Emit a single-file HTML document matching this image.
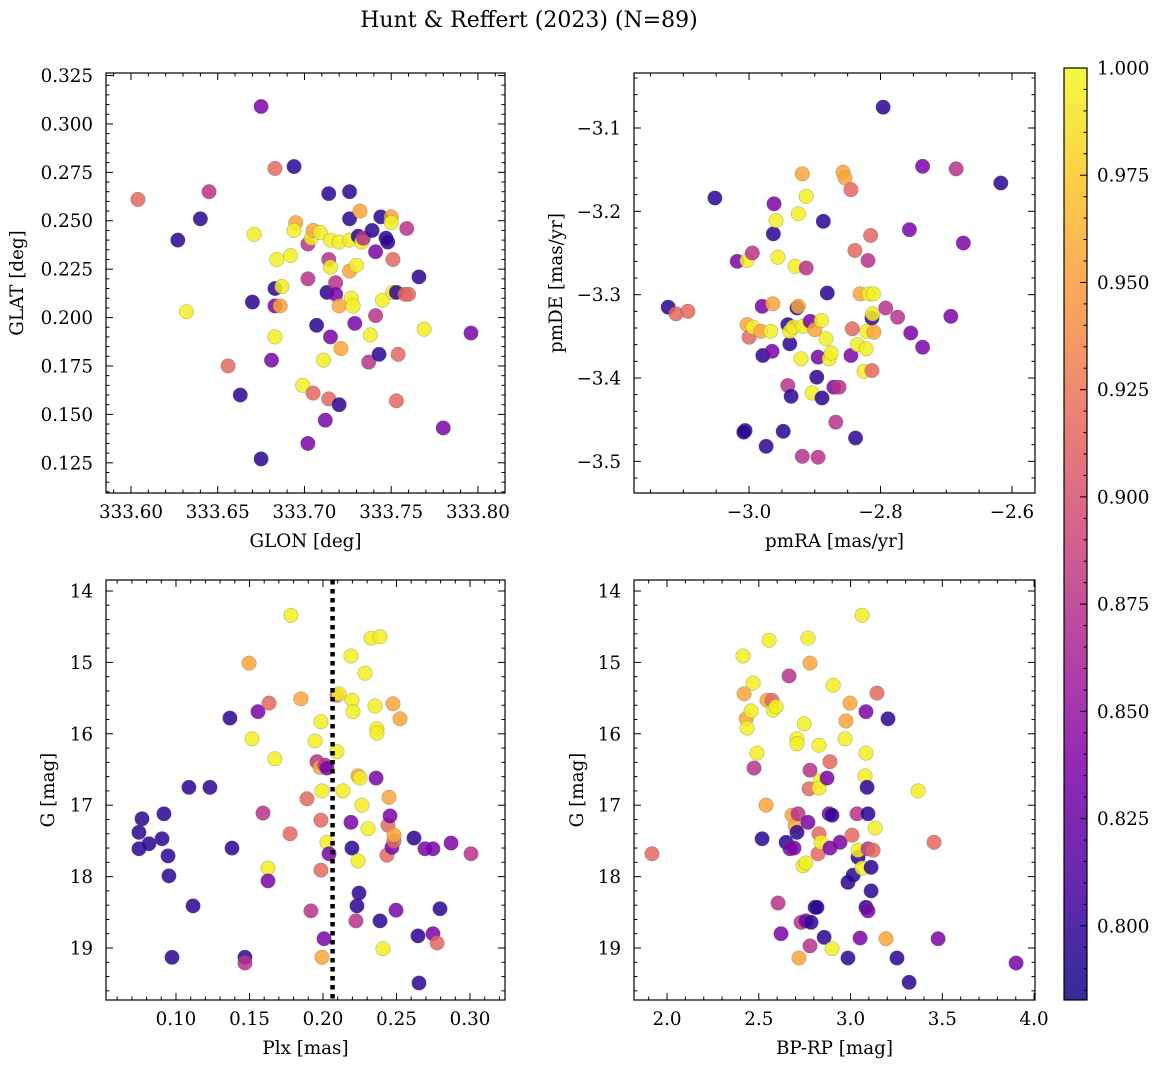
<!DOCTYPE html>
<html><head><meta charset="utf-8"><style>
html,body{margin:0;padding:0;background:#fff;}
svg{display:block;font-family:"DejaVu Serif","Liberation Serif",serif;}
</style></head><body>
<svg id="fig" width="1161" height="1068" viewBox="0 0 1161 1068">
<text x="529" y="27" text-anchor="middle" font-size="22">Hunt &amp; Reffert (2023) (N=89)</text>
</svg>
<script>
// ---------- data ----------
// Panel 1: GLON / GLAT
const glon1 = [333.604,333.627,333.640,333.645,333.632,333.656,333.663,333.670,333.671,333.675,333.675,333.681,333.683,333.683,333.684,333.683,333.686,333.687,333.683,333.692,333.694,333.695,333.694,333.699,333.702,333.702,333.702,333.704,333.705,333.705,333.707,333.709,333.711,333.712,333.713,333.714,333.714,333.715,333.715,333.715,333.714,333.718,333.718,333.720,333.720,333.720,333.721,333.726,333.726,333.726,333.726,333.727,333.728,333.729,333.730,333.731,333.732,333.733,333.734,333.737,333.738,333.739,333.741,333.741,333.743,333.744,333.745,333.747,333.748,333.750,333.750,333.751,333.751,333.753,333.754,333.753,333.758,333.760,333.759,333.766,333.769,333.780,333.796];
const glat1 = [0.261,0.240,0.251,0.265,0.203,0.175,0.160,0.208,0.243,0.309,0.127,0.178,0.277,0.215,0.230,0.206,0.206,0.216,0.190,0.232,0.278,0.249,0.245,0.165,0.238,0.220,0.135,0.241,0.245,0.161,0.196,0.244,0.178,0.147,0.213,0.264,0.230,0.240,0.226,0.190,0.158,0.218,0.212,0.239,0.206,0.155,0.184,0.240,0.224,0.251,0.265,0.210,0.206,0.197,0.227,0.242,0.255,0.239,0.241,0.177,0.191,0.245,0.234,0.201,0.181,0.252,0.209,0.241,0.239,0.252,0.249,0.230,0.213,0.213,0.181,0.157,0.212,0.212,0.246,0.221,0.194,0.143,0.192];
const prob1 = [0.915,0.795,0.795,0.875,0.995,0.915,0.795,0.795,0.995,0.835,0.795,0.835,0.915,0.795,0.995,0.835,0.955,0.995,0.995,0.995,0.795,0.955,0.995,0.995,0.875,0.875,0.835,0.995,0.955,0.915,0.795,0.995,0.995,0.835,0.795,0.795,0.875,0.995,0.995,0.835,0.915,0.875,0.835,0.995,0.955,0.795,0.955,0.995,0.955,0.795,0.795,0.995,0.995,0.835,0.995,0.795,0.955,0.995,0.875,0.875,0.995,0.795,0.835,0.875,0.795,0.795,0.995,0.795,0.795,0.955,0.995,0.915,0.995,0.795,0.915,0.915,0.915,0.915,0.875,0.795,0.995,0.835,0.835];
// Panel 2: pmRA / pmDE
const pmra2 = [-3.123,-3.111,-3.093,-3.052,-3.018,-3.006,-3.008,-3.003,-3.000,-3.003,-2.995,-2.994,-2.982,-2.980,-2.979,-2.974,-2.967,-2.965,-2.964,-2.963,-2.962,-2.959,-2.956,-2.948,-2.941,-2.941,-2.938,-2.936,-2.938,-2.933,-2.930,-2.927,-2.925,-2.925,-2.919,-2.919,-2.921,-2.918,-2.913,-2.913,-2.907,-2.904,-2.900,-2.897,-2.895,-2.895,-2.890,-2.887,-2.889,-2.883,-2.881,-2.878,-2.875,-2.871,-2.868,-2.863,-2.857,-2.854,-2.845,-2.843,-2.845,-2.839,-2.838,-2.835,-2.831,-2.825,-2.822,-2.821,-2.819,-2.818,-2.815,-2.813,-2.813,-2.812,-2.811,-2.810,-2.792,-2.774,-2.754,-2.756,-2.736,-2.736,-2.796,-2.693,-2.685,-2.674,-2.617];
const pmde2 = [-3.315,-3.323,-3.320,-3.184,-3.260,-3.463,-3.465,-3.336,-3.351,-3.259,-3.250,-3.339,-3.344,-3.314,-3.373,-3.482,-3.344,-3.368,-3.311,-3.227,-3.191,-3.211,-3.255,-3.464,-3.336,-3.409,-3.359,-3.422,-3.344,-3.339,-3.266,-3.316,-3.314,-3.203,-3.155,-3.494,-3.377,-3.338,-3.182,-3.268,-3.332,-3.418,-3.342,-3.399,-3.375,-3.495,-3.331,-3.212,-3.424,-3.353,-3.298,-3.377,-3.370,-3.411,-3.453,-3.411,-3.153,-3.160,-3.174,-3.341,-3.373,-3.247,-3.472,-3.360,-3.299,-3.392,-3.365,-3.344,-3.259,-3.299,-3.229,-3.328,-3.391,-3.323,-3.299,-3.345,-3.316,-3.327,-3.346,-3.222,-3.363,-3.146,-3.075,-3.326,-3.149,-3.238,-3.166];
const prob2 = [0.795,0.915,0.915,0.795,0.835,0.795,0.795,0.955,0.915,0.995,0.875,0.995,0.955,0.835,0.795,0.795,0.995,0.835,0.955,0.795,0.835,0.995,0.995,0.795,0.795,0.875,0.795,0.795,0.995,0.995,0.995,0.795,0.955,0.995,0.955,0.875,0.995,0.995,0.995,0.875,0.835,0.995,0.955,0.795,0.835,0.875,0.995,0.795,0.795,0.995,0.795,0.995,0.995,0.835,0.875,0.875,0.955,0.955,0.915,0.915,0.835,0.915,0.795,0.995,0.955,0.995,0.995,0.995,0.875,0.995,0.915,0.795,0.915,0.995,0.995,0.955,0.875,0.875,0.835,0.835,0.835,0.835,0.795,0.835,0.875,0.835,0.795];
// Panel 3: Plx / G
const plx3 = [0.0748,0.0769,0.0748,0.0816,0.0905,0.0918,0.0946,0.0952,0.0973,0.1088,0.1116,0.1231,0.1367,0.1381,0.1469,0.1469,0.1497,0.1517,0.1558,0.1592,0.1633,0.1626,0.1626,0.1673,0.1776,0.1782,0.1850,0.1891,0.1918,0.1946,0.1959,0.1980,0.1986,0.1993,0.1986,0.1986,0.1993,0.2007,0.2014,0.2027,0.2027,0.2041,0.2095,0.2095,0.2109,0.2136,0.2190,0.2190,0.2197,0.2197,0.2204,0.2224,0.2231,0.2238,0.2245,0.2238,0.2252,0.2265,0.2286,0.2306,0.2327,0.2361,0.2354,0.2367,0.2367,0.2388,0.2388,0.2408,0.2435,0.2442,0.2449,0.2456,0.2469,0.2483,0.2476,0.2483,0.2497,0.2524,0.2619,0.2646,0.2653,0.2694,0.2748,0.2776,0.2748,0.2871,0.2796,0.3007];
const g3 = [17.38,17.19,17.61,17.54,17.47,17.12,17.71,17.99,19.13,16.75,18.41,16.75,15.78,17.60,19.13,19.21,15.01,16.07,15.69,17.11,15.57,17.88,18.06,16.35,17.40,14.34,15.51,16.91,18.48,16.10,16.39,16.47,15.83,16.80,17.91,17.21,19.13,18.87,16.44,16.48,17.52,17.68,15.46,16.25,15.44,16.80,14.91,17.24,15.53,17.60,15.69,18.62,18.41,16.59,18.23,17.78,16.62,17.00,15.15,17.33,14.66,16.62,15.61,15.93,15.99,14.64,18.62,19.01,17.70,17.28,16.89,17.15,17.59,17.50,15.58,17.42,18.47,15.79,17.46,18.83,19.49,17.61,18.80,18.93,17.61,17.53,18.45,17.68];
const prob3 = [0.795,0.795,0.795,0.795,0.795,0.795,0.795,0.795,0.795,0.795,0.795,0.795,0.795,0.795,0.795,0.875,0.955,0.995,0.835,0.875,0.915,0.995,0.835,0.995,0.915,0.995,0.955,0.915,0.875,0.995,0.875,0.955,0.995,0.995,0.915,0.915,0.955,0.835,0.875,0.835,0.995,0.835,0.915,0.995,0.995,0.995,0.995,0.835,0.995,0.795,0.995,0.875,0.795,0.955,0.795,0.995,0.995,0.995,0.995,0.995,0.995,0.835,0.995,0.995,0.995,0.995,0.795,0.995,0.915,0.915,0.955,0.835,0.835,0.915,0.955,0.955,0.835,0.955,0.795,0.795,0.795,0.835,0.835,0.915,0.835,0.835,0.795,0.875];
const plxLine = 0.2065;
// Panel 4: BP-RP / G
const bprp4 = [1.918,2.414,2.420,2.431,2.436,2.458,2.469,2.490,2.474,2.518,2.540,2.545,2.556,2.572,2.578,2.594,2.605,2.621,2.649,2.665,2.670,2.692,2.681,2.698,2.714,2.708,2.708,2.708,2.719,2.730,2.741,2.747,2.757,2.757,2.768,2.768,2.774,2.779,2.779,2.779,2.785,2.807,2.817,2.823,2.828,2.834,2.828,2.828,2.839,2.856,2.872,2.883,2.888,2.888,2.899,2.899,2.905,2.943,2.970,2.975,2.986,2.986,2.997,3.008,3.014,3.035,3.041,3.041,3.052,3.063,3.079,3.084,3.090,3.063,3.084,3.084,3.095,3.095,3.095,3.112,3.112,3.134,3.123,3.144,3.193,3.204,3.253,3.319,3.368,3.455,3.477,3.902];
const g4 = [17.68,14.91,15.44,15.79,15.92,15.68,15.29,16.27,16.48,17.47,17.00,15.53,14.69,15.53,15.67,15.62,18.37,18.80,17.52,15.19,17.61,17.60,17.14,17.29,17.12,16.07,16.14,17.38,19.14,18.64,17.85,15.86,18.62,17.81,14.66,17.24,16.77,18.97,16.51,15.01,18.64,18.43,18.43,17.68,17.40,16.66,16.76,16.16,17.52,18.85,16.62,17.12,17.60,16.39,19.01,17.14,15.32,17.52,16.07,15.82,18.08,19.14,15.57,17.42,17.98,17.12,17.73,17.63,18.86,17.88,16.59,16.27,16.75,14.34,15.69,18.43,18.48,17.12,17.61,18.20,17.87,17.32,17.63,15.43,18.87,15.79,19.14,19.48,16.80,17.52,18.87,19.21];
const prob4 = [0.915,0.995,0.955,0.955,0.995,0.995,0.995,0.995,0.875,0.795,0.955,0.955,0.995,0.915,0.995,0.995,0.875,0.835,0.795,0.875,0.835,0.835,0.955,0.955,0.875,0.995,0.995,0.795,0.955,0.875,0.995,0.995,0.835,0.995,0.995,0.835,0.915,0.875,0.875,0.955,0.795,0.795,0.795,0.915,0.915,0.995,0.995,0.995,0.995,0.795,0.835,0.835,0.835,0.915,0.995,0.795,0.995,0.835,0.995,0.955,0.795,0.795,0.955,0.915,0.795,0.875,0.795,0.995,0.835,0.995,0.995,0.995,0.795,0.995,0.835,0.795,0.835,0.795,0.875,0.795,0.795,0.995,0.915,0.915,0.955,0.795,0.795,0.795,0.995,0.915,0.835,0.835];
// colour scale
const cmin = 0.7827, cmax = 1.0;
const cbTicks = [0.800,0.825,0.850,0.875,0.900,0.925,0.950,0.975,1.000];

// ---------- rendering ----------
const FS = 18.3;
const NS = "http://www.w3.org/2000/svg";
const fig = document.getElementById('fig');
function el(tag, attrs, parent){ const e=document.createElementNS(NS,tag); for(const k in attrs) e.setAttribute(k,attrs[k]); (parent||fig).appendChild(e); return e; }
const stops=[[0,[13,8,135]],[0.125,[76,2,161]],[0.25,[126,3,168]],[0.375,[169,35,149]],[0.5,[204,71,120]],[0.625,[230,108,92]],[0.75,[248,149,64]],[0.875,[253,195,40]],[1,[240,249,33]]];
function plasma(t){ t=Math.max(0,Math.min(1,t)); for(let i=1;i<stops.length;i++){ if(t<=stops[i][0]){ const a=stops[i-1],b=stops[i],f=(t-a[0])/(b[0]-a[0]); const c=a[1].map((v,j)=>Math.round(v+(b[1][j]-v)*f)); return `rgb(${c[0]},${c[1]},${c[2]})`; } } return 'rgb(240,249,33)'; }
function col(p){ return plasma((p-cmin)/(cmax-cmin)); }

function panel(cfg){
  const {name,L,R,T,B,x0,x1,y0,y1,xs,ys,ps,xMaj,xMin,yMaj,yMin,xFmt,yFmt,xLabel,yLabel,yLabelX} = cfg;
  const g = el('g',{});
  
  
  const sx = v => L + (v-x0)/(x1-x0)*(R-L);
  const sy = v => T + (v-y0)/(y1-y0)*(B-T);
  const clip = el('clipPath',{id:name+'-clip'},g); el('rect',{x:L,y:T,width:R-L,height:B-T},clip);
  const pts = el('g',{'clip-path':`url(#${name}-clip)`},g);
  for(let i=0;i<xs.length;i++){
    const c = el('circle',{cx:sx(xs[i]),cy:sy(ys[i]),r:7.3,fill:col(ps[i]),'fill-opacity':0.85,stroke:'#666','stroke-width':0.4,'stroke-opacity':0.7},pts);
    
    
  }
  if(cfg.vline!==undefined){
    const ln = el('line',{x1:sx(cfg.vline),x2:sx(cfg.vline),y1:T,y2:B,stroke:'#000','stroke-width':4.5,'stroke-dasharray':'4.5,4.5'},pts);
    
    
  }
  el('rect',{x:L,y:T,width:R-L,height:B-T,fill:'none',stroke:'#000','stroke-width':1.2},g);
  const eps=1e-9;
  for(let v=Math.ceil((Math.min(x0,x1))/xMin-eps)*xMin; v<=Math.max(x0,x1)+eps; v+=xMin){
    const isMaj = Math.abs(v/xMaj-Math.round(v/xMaj))<1e-6; const X=sx(v); const len=isMaj?7:3.5;
    el('line',{x1:X,x2:X,y1:B,y2:B-len,stroke:'#000','stroke-width':1},g);
    el('line',{x1:X,x2:X,y1:T,y2:T+len,stroke:'#000','stroke-width':1},g);
    if(isMaj){ const t=el('text',{x:X,y:B+25,'text-anchor':'middle','font-size':FS},g); t.textContent=xFmt(v);
        }
  }
  const ylo=Math.min(y0,y1), yhi=Math.max(y0,y1);
  for(let v=Math.ceil(ylo/yMin-eps)*yMin; v<=yhi+eps; v+=yMin){
    const isMaj = Math.abs(v/yMaj-Math.round(v/yMaj))<1e-6; const Y=sy(v); const len=isMaj?7:3.5;
    el('line',{x1:L,x2:L+len,y1:Y,y2:Y,stroke:'#000','stroke-width':1},g);
    el('line',{x1:R,x2:R-len,y1:Y,y2:Y,stroke:'#000','stroke-width':1},g);
    if(isMaj){ const t=el('text',{x:L-13,y:Y+6.5,'text-anchor':'end','font-size':FS},g); t.textContent=yFmt(v);
        }
  }
  const xl = el('text',{x:(L+R)/2,y:B+54,'text-anchor':'middle','font-size':FS},g); xl.textContent=xLabel;
   
  const yc=(T+B)/2;
  const yl = el('text',{x:yLabelX,y:yc,'text-anchor':'middle','font-size':FS,transform:`rotate(-90 ${yLabelX} ${yc})`},g); yl.textContent=yLabel;
   
}
const minus = s => s.replace('-','\u2212');
panel({name:'position-panel',L:106,R:505,T:73,B:493,x0:333.5856,x1:333.8156,y0:0.3263,y1:0.1094,xs:glon1,ys:glat1,ps:prob1,
  xMaj:0.05,xMin:0.01,yMaj:0.025,yMin:0.005,xFmt:v=>v.toFixed(2),yFmt:v=>v.toFixed(3),xLabel:'GLON [deg]',yLabel:'GLAT [deg]',yLabelX:23});
panel({name:'proper-motion-panel',L:634,R:1035,T:73,B:493,x0:-3.175,x1:-2.565,y0:-3.034,y1:-3.538,xs:pmra2,ys:pmde2,ps:prob2,
  xMaj:0.2,xMin:0.05,yMaj:0.1,yMin:0.02,xFmt:v=>minus(v.toFixed(1)),yFmt:v=>minus(v.toFixed(1)),xLabel:'pmRA [mas/yr]',yLabel:'pmDE [mas/yr]',yLabelX:562});
panel({name:'parallax-panel',L:106,R:505,T:580,B:1000,x0:0.0524,x1:0.3238,y0:13.846,y1:19.728,xs:plx3,ys:g3,ps:prob3,vline:plxLine,
  xMaj:0.05,xMin:0.01,yMaj:1,yMin:0.2,xFmt:v=>v.toFixed(2),yFmt:v=>v.toFixed(0),xLabel:'Plx [mas]',yLabel:'G [mag]',yLabelX:54});
panel({name:'cmd-panel',L:634,R:1035,T:580,B:1000,x0:1.820,x1:4.005,y0:13.846,y1:19.728,xs:bprp4,ys:g4,ps:prob4,
  xMaj:0.5,xMin:0.1,yMaj:1,yMin:0.2,xFmt:v=>v.toFixed(1),yFmt:v=>v.toFixed(0),xLabel:'BP-RP [mag]',yLabel:'G [mag]',yLabelX:583});

// colorbar
const cbL=1064, cbR=1087, cbT=68, cbB=1000;
const cb = el('g',{});  
const defs = el('defs',{},cb);
const lg = el('linearGradient',{id:'cbgrad',x1:0,y1:1,x2:0,y2:0},defs);
for(let i=0;i<=40;i++){ el('stop',{offset:i/40,'stop-color':plasma(i/40),'stop-opacity':0.85},lg); }
el('rect',{x:cbL,y:cbT,width:cbR-cbL,height:cbB-cbT,fill:'url(#cbgrad)',stroke:'#000','stroke-width':1.2},cb);
const cy = v => cbB - (v-cmin)/(cmax-cmin)*(cbB-cbT);
for(let v=0.785; v<=1.0001; v+=0.005){
  const isMaj = cbTicks.some(t=>Math.abs(t-v)<1e-6); const Y=cy(v); const len=isMaj?7:3.5;
  el('line',{x1:cbR,x2:cbR-len,y1:Y,y2:Y,stroke:'#000','stroke-width':1},cb);
}
for(const t of cbTicks){ const tx=el('text',{x:cbR+10,y:cy(t)+6.5,'font-size':FS},cb); tx.textContent=t.toFixed(3);
    }
</script>
</body></html>
